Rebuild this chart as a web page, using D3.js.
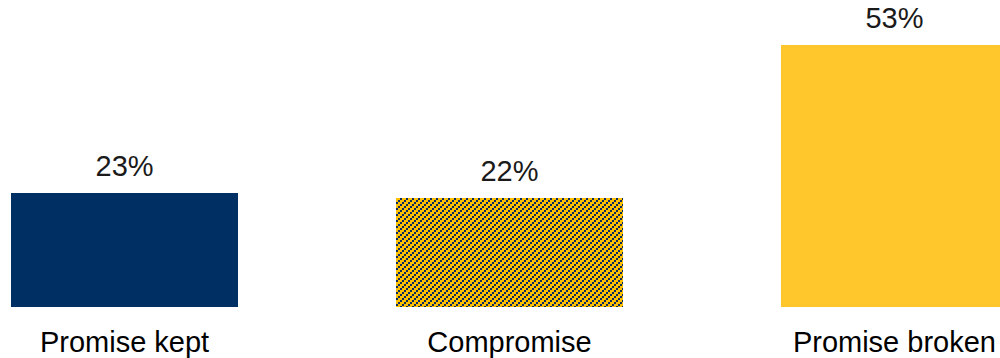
<!DOCTYPE html>
<html>
<head>
<meta charset="utf-8">
<script src="https://cdn.jsdelivr.net/npm/d3@7"></script>
<style>
  body { margin: 0; background: #fff; }
  svg { display: block; font-family: "Liberation Sans", Arial, sans-serif; }
</style>
</head>
<body>
<div id="chart"></div>
<script>
const categories = ['Promise kept', 'Compromise', 'Promise broken'];
const values = [23, 22, 53];
const valueLabels = ['23%', '22%', '53%'];

const width = 1000;
const height = 358;

const svg = d3.select('#chart').append('svg')
  .attr('width', width)
  .attr('height', height);

// Hatched fill for the compromise bar: 2x2 blocks stepping up to the right
const tile = 6;
const defs = svg.append('defs');
const pattern = defs.append('pattern')
  .attr('id', 'hatch')
  .attr('patternUnits', 'userSpaceOnUse')
  .attr('width', tile)
  .attr('height', tile);
pattern.append('rect')
  .attr('width', tile)
  .attr('height', tile)
  .attr('fill', '#ffc000');
[[0, 4], [2, 2], [4, 0]].forEach(p => {
  pattern.append('rect')
    .attr('x', p[0])
    .attr('y', p[1])
    .attr('width', 2)
    .attr('height', 2)
    .attr('fill', '#0d2a5e');
});

const fills = ['#003063', 'url(#hatch)', '#ffc72c'];

const x = d3.scaleBand()
  .domain(categories)
  .range([11, 1008])
  .paddingInner(0.41)
  .paddingOuter(0);

const y = d3.scaleLinear()
  .domain([0, 53])
  .range([307, 45]);

const g = svg.append('g');

g.selectAll('rect.bar')
  .data(values)
  .join('rect')
  .attr('class', 'bar')
  .attr('x', (d, i) => x(categories[i]))
  .attr('y', d => y(d))
  .attr('width', x.bandwidth())
  .attr('height', d => y(0) - y(d))
  .attr('fill', (d, i) => fills[i])
  .attr('shape-rendering', 'crispEdges');

// Value labels above bars
g.selectAll('text.value')
  .data(values)
  .join('text')
  .attr('class', 'value')
  .attr('x', (d, i) => x(categories[i]) + x.bandwidth() / 2)
  .attr('y', d => y(d) - 17)
  .attr('text-anchor', 'middle')
  .attr('font-size', 29)
  .attr('fill', '#1a1a1a')
  .text((d, i) => valueLabels[i]);

// Category labels under bars
g.selectAll('text.cat')
  .data(categories)
  .join('text')
  .attr('class', 'cat')
  .attr('x', d => x(d) + x.bandwidth() / 2)
  .attr('y', 352)
  .attr('text-anchor', 'middle')
  .attr('font-size', 29)
  .attr('fill', '#000')
  .text(d => d);
</script>
</body>
</html>
